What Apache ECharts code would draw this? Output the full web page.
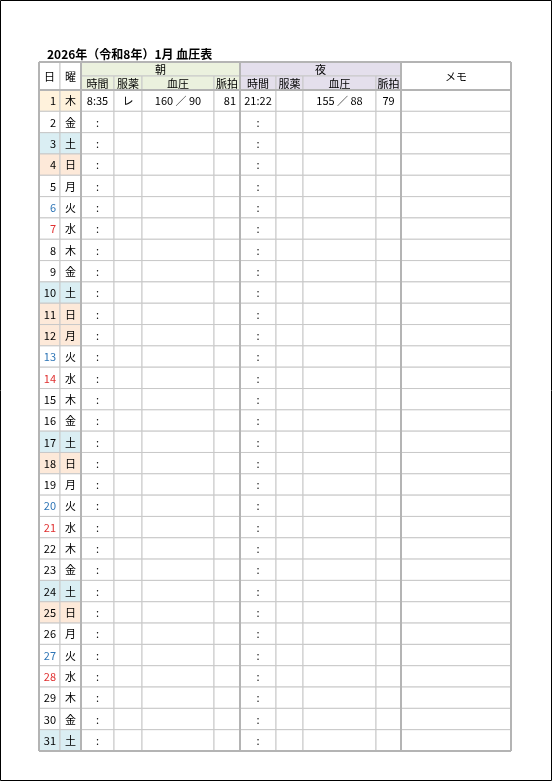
<!DOCTYPE html>
<html><head><meta charset="utf-8">
<script src="https://cdn.jsdelivr.net/npm/echarts@6/dist/echarts.min.js"></script>
<style>html,body{margin:0;padding:0;background:#fff}#c{width:553px;height:782px}</style>
</head><body><div id="c"></div>
<script>
const title = '2026年（令和8年）1月 血圧表';
const days = [1,2,3,4,5,6,7,8,9,10,11,12,13,14,15,16,17,18,19,20,21,22,23,24,25,26,27,28,29,30,31];
const weekdays = ['木','金','土','日','月','火','水','木','金','土','日','月','火','水','木','金','土','日','月','火','水','木','金','土','日','月','火','水','木','金','土'];
const holidays = [1,12];
const amTime = ['8:35'], amMed = ['レ'], amSys = [160], amDia = [90], amPulse = [81];
const pmTime = ['21:22'], pmMed = [''], pmSys = [155], pmDia = [88], pmPulse = [79];
const groupLabels = ['朝','夜'];
const subLabels = ['時間','服薬','血圧','脈拍'];

// layout
const colX = [0,21,42,75,103,175,201,237,264,337,362,472];
const H1 = 14, H2 = 28, bodyH = 661, N = days.length;
const rowY = i => H2 + i * bodyH / N;
const FONT = '"Noto Sans CJK JP", sans-serif';
const cells = [];
function cell(c0,c1,y0,y1,text,fill,color,align,bold){cells.push([colX[c0],colX[c1],y0,y1,text,fill||null,color||'#000',align||'center',bold?1:0]);}
cell(0,1,0,H2,'日','#fff');
cell(1,2,0,H2,'曜','#fff');
cell(2,6,0,H1,groupLabels[0],'#ebf1de');
cell(6,10,0,H1,groupLabels[1],'#e4dfec');
cell(10,11,0,H2,'メモ','#fff');
subLabels.forEach((s,k)=>{cell(2+k,3+k,H1,H2,s,'#ebf1de');cell(6+k,7+k,H1,H2,s,'#e4dfec');});
days.forEach((d,i)=>{
  const w = weekdays[i], y0=rowY(i), y1=rowY(i+1);
  let fill = '#fff';
  if (w==='土') fill = '#daeef3';
  if (w==='日' || holidays.includes(d)) fill = '#fde9d9';
  if (d===1) fill = '#fff2dc';
  const col = w==='火' ? '#2e75b6' : (w==='水' ? '#e03030' : '#000');
  cell(0,1,y0,y1,String(d),fill,col,'right');
  cell(1,2,y0,y1,w,fill,'#000');
  const has = i < amTime.length;
  cell(2,3,y0,y1,has?amTime[i]:':');
  cell(3,4,y0,y1,has?amMed[i]:'');
  cell(4,5,y0,y1,has?amSys[i]+' ／ '+amDia[i]:'');
  cell(5,6,y0,y1,has?String(amPulse[i]):'', null,'#000','right');
  cell(6,7,y0,y1,has?pmTime[i]:':');
  cell(7,8,y0,y1,has?pmMed[i]:'');
  cell(8,9,y0,y1,has?pmSys[i]+' ／ '+pmDia[i]:'');
  cell(9,10,y0,y1,has?String(pmPulse[i]):'', null,'#000','center');
  cell(10,11,y0,y1,'');
});
const lines = [[colX[2],0,colX[2],H2+bodyH],[colX[6],0,colX[6],H2+bodyH],[colX[10],0,colX[10],H2+bodyH],[0,H2,472,H2],[0,0,472,0],[0,H2+bodyH,472,H2+bodyH],[0,0,0,H2+bodyH],[472,0,472,H2+bodyH]];
const chart = echarts.init(document.getElementById('c'));
chart.setOption({
  animation:false,
  title:{text:title,left:42,top:43,textStyle:{fontFamily:FONT,fontSize:12,fontWeight:'bold',color:'#000'}},
  graphic:[{type:'rect',shape:{x:0.5,y:0.5,width:551,height:780},style:{fill:null,stroke:'#000',lineWidth:1}}],
  grid:{left:39,top:62,width:472,height:689},
  xAxis:{type:'value',min:0,max:472,show:false},
  yAxis:{type:'value',min:0,max:689,inverse:true,show:false},
  series:[{
    type:'custom',data:cells,
    renderItem:(p,api)=>{
      const a=api.coord([api.value(0),api.value(2)]), b=api.coord([api.value(1),api.value(3)]);
      const d=cells[p.dataIndex];
      const al=d[7];
      const tx = al==='right'? b[0]-4 : (a[0]+b[0])/2;
      return {type:'group',children:[
        {type:'rect',shape:{x:a[0],y:a[1],width:b[0]-a[0],height:b[1]-a[1]},style:{fill:d[5]||'#fff',stroke:'#c8c8c8',lineWidth:1}},
        {type:'text',style:{x:tx,y:(a[1]+b[1])/2+0.5,text:d[4],textAlign:al,textVerticalAlign:'middle',fill:d[6],font:'11px '+FONT}}
      ]};
    }
  },{
    type:'custom',data:lines,
    renderItem:(p,api)=>{
      const a=api.coord([api.value(0),api.value(1)]), b=api.coord([api.value(2),api.value(3)]);
      return {type:'line',shape:{x1:a[0],y1:a[1],x2:b[0],y2:b[1]},style:{stroke:'#b4b4b4',lineWidth:2}};
    }
  }]
});
</script></body></html>
